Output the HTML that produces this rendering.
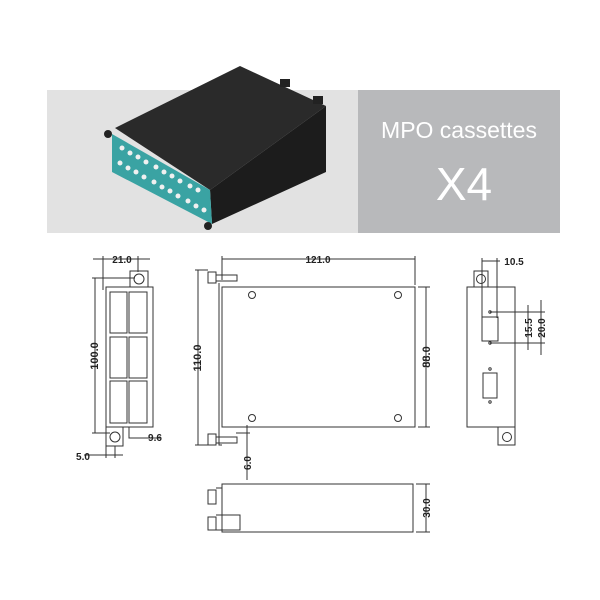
<!DOCTYPE html>
<html><head><meta charset="utf-8"><style>
html,body{margin:0;padding:0;background:#fff;}
svg{display:block}
text{font-family:"Liberation Sans",sans-serif;font-weight:bold;font-size:10px;fill:#222}
</style></head><body>
<svg width="600" height="600" viewBox="0 0 600 600">
<rect x="47" y="90" width="311" height="143" fill="#e2e2e2"/>
<rect x="358" y="90" width="202" height="143" fill="#b8b9bb"/>
<text x="459" y="138" text-anchor="middle" style="font-weight:normal;font-size:23px;fill:#fff">MPO cassettes</text>
<text x="464" y="200" text-anchor="middle" style="font-weight:normal;font-size:46px;fill:#fff">X4</text>
<!-- product -->
<polygon points="115,128 240,66 326,106 210,190" fill="#2a2a2a"/>
<polygon points="210,190 326,106 326,172 212,224" fill="#1c1c1c"/>
<polygon points="112,134 210,190 212,224 112,172" fill="#3aa3a3"/>
<g fill="#f0f0f0">
<circle cx="122" cy="148" r="2.5"/><circle cx="130" cy="153" r="2.5"/><circle cx="138" cy="157" r="2.5"/><circle cx="146" cy="162" r="2.5"/>
<circle cx="156" cy="167" r="2.5"/><circle cx="164" cy="172" r="2.5"/><circle cx="172" cy="176" r="2.5"/><circle cx="180" cy="181" r="2.5"/>
<circle cx="190" cy="186" r="2.5"/><circle cx="198" cy="190" r="2.5"/>
<circle cx="120" cy="163" r="2.5"/><circle cx="128" cy="168" r="2.5"/><circle cx="136" cy="172" r="2.5"/><circle cx="144" cy="177" r="2.5"/>
<circle cx="154" cy="182" r="2.5"/><circle cx="162" cy="187" r="2.5"/><circle cx="170" cy="191" r="2.5"/><circle cx="178" cy="196" r="2.5"/>
<circle cx="188" cy="201" r="2.5"/><circle cx="196" cy="206" r="2.5"/><circle cx="204" cy="210" r="2.5"/>
</g>
<circle cx="108" cy="134" r="4" fill="#222"/><circle cx="208" cy="226" r="4" fill="#222"/>
<rect x="313" y="96" width="10" height="8" fill="#222"/><rect x="280" y="79" width="10" height="8" fill="#222"/>
<!-- drawings -->
<g fill="none" stroke="#333" stroke-width="1">
<!-- left view -->
<rect x="106" y="287" width="47" height="140"/>
<path d="M130,287 V271 H148 V287"/><circle cx="139" cy="279" r="5"/>
<path d="M106,427 V446 H123 V427"/><circle cx="115" cy="437" r="5"/>
<rect x="110" y="292" width="17" height="41"/><rect x="129" y="292" width="18" height="41"/>
<rect x="110" y="337" width="17" height="41"/><rect x="129" y="337" width="18" height="41"/>
<rect x="110" y="381" width="17" height="42"/><rect x="129" y="381" width="18" height="42"/>
<path d="M93,259 H150 M103,256 V290 M138,256 V272"/>
<path d="M95,278 V433 M92,278 H135 M92,433 H110"/>
<path d="M129,427 V438 H160 M84,455 H123 M106,446 V458 M115,446 V458"/>
<!-- middle view -->
<rect x="222" y="287" width="193" height="140"/>
<path d="M219,283 V445 H222"/>
<path d="M208,272 h8 v11 h-8z M216,275 h21 v6 h-21z M208,434 h8 v11 h-8z M216,437 h21 v6 h-21z"/>
<path d="M222,259 H415 M222,256 V280 M415,256 V285"/>
<path d="M198,270 V445 M195,270 H208 M195,445 H208"/>
<path d="M426,287 V427 M418,287 H430 M418,427 H430"/>
<path d="M247,425 V480 M236,427 H250 M236,433 H250"/>
<circle cx="252" cy="295" r="3.5"/><circle cx="398" cy="295" r="3.5"/><circle cx="252" cy="418" r="3.5"/><circle cx="398" cy="418" r="3.5"/>
<!-- right view -->
<rect x="467" y="287" width="48" height="140"/>
<path d="M474,287 V271 H488 V287"/><circle cx="481" cy="279" r="4.5"/>
<path d="M498,427 V445 H515 V427"/><circle cx="507" cy="437" r="4.5"/>
<rect x="482" y="317" width="16" height="24"/><rect x="483" y="373" width="14" height="25"/>
<path d="M482,261 H500 M482,258 V318 M497,258 V318"/>
<path d="M490,312 H545 M490,343 H545 M528,305 V350 M541,300 V355"/>
<circle cx="490" cy="312" r="1.2"/><circle cx="490" cy="343" r="1.2"/><circle cx="490" cy="369" r="1.2"/><circle cx="490" cy="402" r="1.2"/>
<!-- bottom view -->
<rect x="222" y="484" width="191" height="48"/>
<path d="M208,490 h8 v14 h-8z M216,488 h6 v18 M208,517 h8 v13 h-8z M216,515 h24 v15 h-24"/>
<path d="M426,484 V532 M416,484 H430 M416,532 H430"/>
</g>
<text x="122" y="263" text-anchor="middle">21.0</text>
<text x="83" y="460" text-anchor="middle">5.0</text>
<text x="155" y="441" text-anchor="middle">9.6</text>
<text x="318" y="263" text-anchor="middle">121.0</text>
<text x="514" y="265" text-anchor="middle">10.5</text>
<text transform="translate(98,356) rotate(-90)" text-anchor="middle" style="font-size:11px">100.0</text>
<text transform="translate(201,358) rotate(-90)" text-anchor="middle" style="font-size:11px">110.0</text>
<text transform="translate(430,357) rotate(-90)" text-anchor="middle" style="font-size:11px">88.0</text>
<text transform="translate(251,463) rotate(-90)" text-anchor="middle">6.0</text>
<text transform="translate(532,328) rotate(-90)" text-anchor="middle">15.5</text>
<text transform="translate(545,328) rotate(-90)" text-anchor="middle">20.0</text>
<text transform="translate(430,508) rotate(-90)" text-anchor="middle">30.0</text>
</svg>
</body></html>
